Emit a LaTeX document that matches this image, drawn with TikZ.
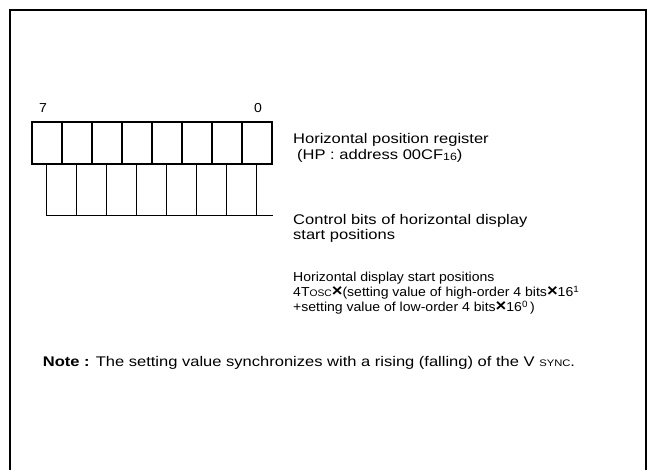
\documentclass[tikz,border=0pt]{standalone}
\usepackage{fontspec}
\setmainfont{Liberation Sans}
\newfontfamily\widefont{Liberation Sans}[FakeStretch=1.18]
\newfontfamily\smfont{Liberation Sans}[FakeStretch=1.08]
\newcommand{\bigtxt}{\widefont\fontsize{14}{16}\selectfont}
\newcommand{\smtxt}{\smfont\fontsize{13}{15}\selectfont}
\newcommand{\smcap}[1]{{\fontsize{9.5}{10}\selectfont #1}}
\newcommand{\tms}{{\fontsize{17}{15}\selectfont\bfseries ×}}
\begin{document}
\begin{tikzpicture}[x=1pt,y=-1pt,
  frameline/.style={line width=2pt},
  cell/.style={draw,line width=1.6pt,minimum width=30pt,minimum height=42pt,inner sep=0pt,outer sep=0pt},
  thinline/.style={line width=1pt},
  lbl/.style={anchor=base west,inner sep=0pt,font=\bigtxt},
  slbl/.style={anchor=base west,inner sep=0pt,font=\smtxt}]
\useasboundingbox (0,0) rectangle (648,470);
% frame
\draw[frameline] (10,480) -- (10,10) -- (646,10) -- (646,480);
% register cells
\foreach \i in {0,...,7} {
  \node[cell] (c\i) at ({32+15+30*\i},143) {};
}
% lower control bits
\foreach \i in {0,...,7} {
  \coordinate (t\i) at ({46+30*\i},164);
  \coordinate (u\i) at ({46+30*\i},216);
  \draw[thinline] (t\i) -- (u\i);
}
\coordinate (uend) at (273,216);
\draw[thinline] (u0) -- (uend);
% bit numbers
\node[font=\smtxt,inner sep=0pt] (n7) at (43,108) {7};
\node[font=\smtxt,inner sep=0pt] (n0) at (258,108) {0};
% labels
\node[lbl] (hp1) at (293,143.3) {Horizontal position register};
\node[lbl] (hp2) at (297,160) {(HP : address 00CF\raisebox{-1pt}{\fontsize{10.5}{10}\selectfont 16})};
\node[lbl] (cb1) at (293,224.3) {Control bits of horizontal display};
\node[lbl] (cb2) at (293,240) {start positions};
\node[slbl] (s1) at (293,281.7) {Horizontal display start positions};
\node[slbl] (s2) at (293,297) {4T\smcap{OSC}\tms(setting value of high-order 4 bits\tms16\textsuperscript{1}};
\node[slbl] (s3) at (293,312) {+setting value of low-order 4 bits\tms16\textsuperscript{0}\,)};
\node[lbl] (note) at (42.7,366.7) {\textbf{Note :} The setting value synchronizes with a rising (falling) of the V \smcap{SYNC}.};
\end{tikzpicture}
\end{document}
